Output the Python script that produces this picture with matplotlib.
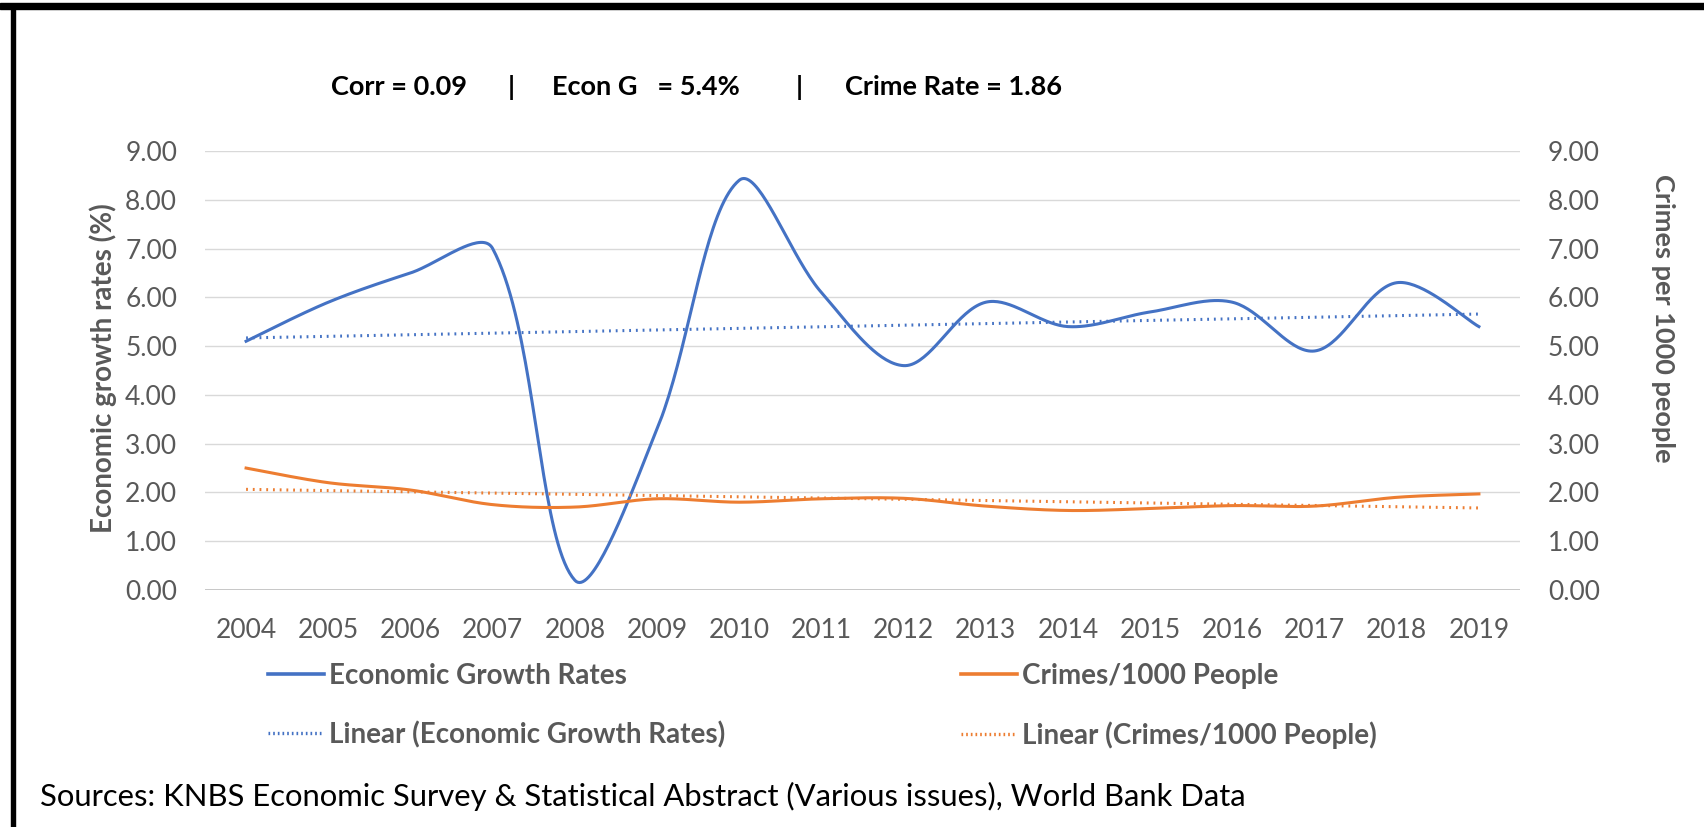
import numpy as np
import matplotlib.pyplot as plt
from matplotlib.lines import Line2D
from matplotlib.patches import Rectangle

years = [2004, 2005, 2006, 2007, 2008, 2009, 2010, 2011,
         2012, 2013, 2014, 2015, 2016, 2017, 2018, 2019]
growth = [5.1, 5.9, 6.5, 7.0, 0.2, 3.3, 8.4, 6.1,
          4.6, 5.9, 5.4, 5.7, 5.9, 4.9, 6.3, 5.4]
crimes = [2.5, 2.2, 2.05, 1.75, 1.7, 1.87, 1.8, 1.87,
          1.88, 1.72, 1.63, 1.67, 1.73, 1.72, 1.9, 1.97]
y_ticks = [0, 1, 2, 3, 4, 5, 6, 7, 8, 9]

blue = '#4472C4'
orange = '#ED7D31'
grey = '#595959'
font = 'Lato'


def smooth(x, y, ky=0.6, n=40):
    # excel style smoothed line: bezier segments, tangents weighted by
    # segment length (lengths measured with y scaled to screen units)
    x = np.asarray(x, float)
    y = np.asarray(y, float)
    px = np.r_[x[0], x, x[-1]]
    py = np.r_[y[0], y, y[-1]]
    L = np.hypot(np.diff(px), np.diff(py) * ky)
    t = np.linspace(0, 1, n)
    b = [(1 - t) ** 3, 3 * (1 - t) ** 2 * t, 3 * (1 - t) * t ** 2, t ** 3]
    xs, ys = [], []
    for i in range(1, len(px) - 2):
        w1 = L[i] / (L[i - 1] + L[i]) / 3 if L[i - 1] > 0 else 1 / 6
        w2 = L[i] / (L[i] + L[i + 1]) / 3 if L[i + 1] > 0 else 1 / 6
        c1x = px[i] + (px[i + 1] - px[i - 1]) * w1
        c1y = py[i] + (py[i + 1] - py[i - 1]) * w1
        c2x = px[i + 1] - (px[i + 2] - px[i]) * w2
        c2y = py[i + 1] - (py[i + 2] - py[i]) * w2
        xs.append(b[0] * px[i] + b[1] * c1x + b[2] * c2x + b[3] * px[i + 1])
        ys.append(b[0] * py[i] + b[1] * c1y + b[2] * c2y + b[3] * py[i + 1])
    return np.concatenate(xs), np.concatenate(ys)


fig = plt.figure(figsize=(17.04, 8.27), dpi=100)
ax = fig.add_axes([205 / 1704, 1 - 590 / 827, 1315 / 1704, 439 / 827])
ax2 = ax.twinx()

for a in (ax, ax2):
    a.set_ylim(0, 9)
    a.set_yticks(y_ticks)
    a.set_yticklabels([f'{v:.2f}' for v in y_ticks], fontsize=19,
                      color=grey, family=font)
    a.tick_params(length=0, pad=20)
    for s in a.spines.values():
        s.set_visible(False)

ax.set_xlim(2003.5, 2019.5)
ax.set_xticks(years)
ax.set_xticklabels([str(y) for y in years], fontsize=19, color=grey,
                   family=font)
ax.tick_params(axis='x', pad=20)
ax.grid(axis='y', color='#d9d9d9', linewidth=1)
ax.axhline(0, color='#bfbfbf', linewidth=1.2)
ax.set_axisbelow(True)

gx, gy = smooth(years, growth)
ax.plot(gx, gy, color=blue, linewidth=2.2, zorder=3)
k = np.polyfit(years, growth, 1)
ax.plot(years, np.polyval(k, years), color=blue, linewidth=2.2,
        linestyle=(0, (0.6, 1.6)), zorder=3)

cx, cy = smooth(years, crimes)
ax2.plot(cx, cy, color=orange, linewidth=2.2, zorder=3)
k2 = np.polyfit(years, crimes, 1)
ax2.plot(years, np.polyval(k2, years), color=orange, linewidth=2.2,
         linestyle=(0, (0.6, 1.6)), zorder=3)

fig.text(103 / 1704, 1 - 368 / 827, 'Economic growth rates (%)', rotation=90,
         ha='center', va='center', fontsize=20, fontweight='bold',
         color=grey, family=font)
fig.text(1663 / 1704, 1 - 318 / 827, 'Crimes per 1000 people', rotation=270,
         ha='center', va='center', fontsize=19.5, fontweight='bold',
         color=grey, family=font)

hy = 1 - 87 / 827
hkw = dict(va='center', fontsize=19.5, fontweight='bold', family=font)
fig.text(331 / 1704, hy, 'Corr = 0.09', ha='left', **hkw)
fig.text(511 / 1704, hy, '|', ha='center', **hkw)
fig.text(552 / 1704, hy, 'Econ G   = 5.4%', ha='left', **hkw)
fig.text(799 / 1704, hy, '|', ha='center', **hkw)
fig.text(845 / 1704, hy, 'Crime Rate = 1.86', ha='left', **hkw)

dots = (0, (0.5, 0.9))
legend_cols = [
    ([Line2D([], [], color=blue, linewidth=2.6),
      Line2D([], [], color=blue, linewidth=2.4, linestyle=dots)],
     ['Economic Growth Rates', 'Linear (Economic Growth Rates)'], 268),
    ([Line2D([], [], color=orange, linewidth=2.6),
      Line2D([], [], color=orange, linewidth=2.4, linestyle=dots)],
     ['Crimes/1000 People', 'Linear (Crimes/1000 People)'], 961),
]
for hs, labs, x0 in legend_cols:
    leg = fig.legend(hs, labs, loc='upper left',
                     bbox_to_anchor=(x0 / 1704, 1 - 663 / 827),
                     frameon=False, borderpad=0, borderaxespad=0,
                     handlelength=2.0, handletextpad=0.2, labelspacing=1.15,
                     prop={'family': font, 'weight': 'bold', 'size': 20})
    for t in leg.get_texts():
        t.set_color(grey)

fig.text(40 / 1704, 1 - 796 / 827,
         'Sources: KNBS Economic Survey & Statistical Abstract (Various issues), World Bank Data',
         ha='left', va='center', fontsize=22.3, family=font)

# frame around the figure (top and left edges)
fig.patches.append(Rectangle((0, 1 - 9 / 827), 1, 6 / 827,
                             transform=fig.transFigure, color='black'))
fig.patches.append(Rectangle((11 / 1704, 0), 4 / 1704, 1 - 4 / 827,
                             transform=fig.transFigure, color='black'))

fig.savefig('out.png', dpi=100)
